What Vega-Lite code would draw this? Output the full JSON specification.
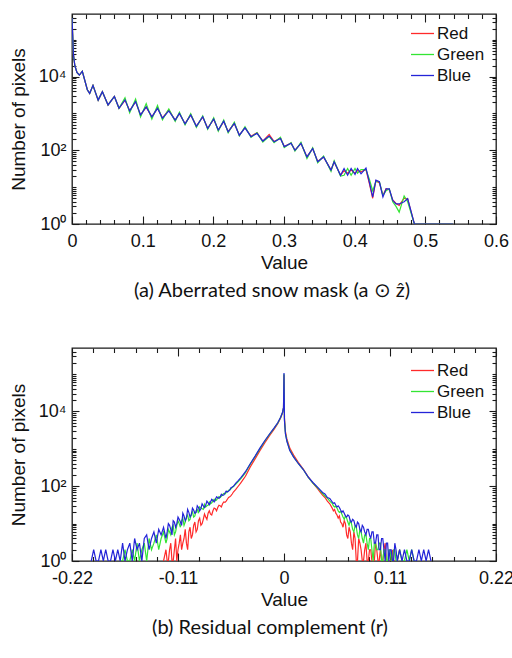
{
  "$schema": "https://vega.github.io/schema/vega-lite/v6.json",
  "padding": {"left": 8, "top": 12, "right": 0, "bottom": 0},
  "spacing": 44,
  "resolve": {"scale": {"color": "independent"}, "legend": {"color": "independent"}},
  "config": {
    "view": {"stroke": "#1a1a1a", "strokeWidth": 1.3},
    "axis": {"domain": false, "grid": false, "tickColor": "#1a1a1a", "tickWidth": 1.1, "labelFont": "Arial, Liberation Sans, sans-serif", "labelFontSize": 18, "labelColor": "#111", "titleFont": "Arial, Liberation Sans, sans-serif", "titleFontSize": 19, "titleFontWeight": "normal", "titleColor": "#111", "labelFlush": false, "labelOverlap": false, "labelBound": false},
    "legend": {"symbolType": "stroke", "symbolSize": 530, "symbolStrokeWidth": 1.3, "labelFont": "Arial, Liberation Sans, sans-serif", "labelFontSize": 17, "labelColor": "#111", "rowPadding": 0, "labelOffset": 2, "padding": 0}
  },
  "vconcat": [
    {
      "width": 424,
      "height": 210,
      "title": {"text": "(a) Aberrated snow mask (a ⊙ ẑ)", "orient": "bottom", "anchor": "middle", "font": "Lato", "fontSize": 20, "fontWeight": "normal", "color": "#111", "offset": 9, "dx": -12},
      "data": {"values": [
        {"v": 0, "R": 390000, "G": 390000, "B": 390000},
        {"v": 0.001, "R": 130000, "G": 130000, "B": 130000},
        {"v": 0.002, "R": 40000, "G": 40000, "B": 40000},
        {"v": 0.004, "R": 20000, "G": 20000, "B": 20000},
        {"v": 0.007, "R": 13000, "G": 13000, "B": 13000},
        {"v": 0.0105, "R": 11000, "G": 11000, "B": 11000},
        {"v": 0.0146, "R": 14000, "G": 14000, "B": 14000},
        {"v": 0.0217, "R": 4400, "G": 4400, "B": 4400},
        {"v": 0.025, "R": 3500, "G": 3500, "B": 3500},
        {"v": 0.0297, "R": 5800, "G": 5800, "B": 5800},
        {"v": 0.037, "R": 2300, "G": 2300, "B": 2300},
        {"v": 0.043, "R": 3900, "G": 3900, "B": 3900},
        {"v": 0.051, "R": 1700, "G": 1700, "B": 1700},
        {"v": 0.06, "R": 2900, "G": 2900, "B": 2900},
        {"v": 0.0665, "R": 1380, "G": 1380, "B": 1380},
        {"v": 0.075, "R": 2300, "G": 2650, "B": 2340},
        {"v": 0.0816, "R": 1180, "G": 1040, "B": 1175},
        {"v": 0.09, "R": 2100, "G": 2450, "B": 2090},
        {"v": 0.097, "R": 900, "G": 800, "B": 912},
        {"v": 0.105, "R": 1500, "G": 1850, "B": 1510},
        {"v": 0.113, "R": 800, "G": 700, "B": 813},
        {"v": 0.121, "R": 1400, "G": 1650, "B": 1380},
        {"v": 0.128, "R": 750, "G": 670, "B": 741},
        {"v": 0.137, "R": 1250, "G": 1320, "B": 1175},
        {"v": 0.146, "R": 650, "G": 610, "B": 660},
        {"v": 0.152, "R": 1000, "G": 1080, "B": 1000},
        {"v": 0.16, "R": 520, "G": 490, "B": 525},
        {"v": 0.168, "R": 930, "G": 980, "B": 912},
        {"v": 0.176, "R": 450, "G": 420, "B": 447},
        {"v": 0.185, "R": 800, "G": 860, "B": 813},
        {"v": 0.192, "R": 395, "G": 370, "B": 389},
        {"v": 0.2005, "R": 700, "G": 760, "B": 708},
        {"v": 0.207, "R": 350, "G": 330, "B": 355},
        {"v": 0.2147, "R": 610, "G": 660, "B": 617},
        {"v": 0.221, "R": 320, "G": 300, "B": 316},
        {"v": 0.2297, "R": 540, "G": 580, "B": 537},
        {"v": 0.2368, "R": 255, "G": 245, "B": 257},
        {"v": 0.2448, "R": 410, "G": 440, "B": 407},
        {"v": 0.2533, "R": 240, "G": 225, "B": 234},
        {"v": 0.2618, "R": 300, "G": 300, "B": 288},
        {"v": 0.27, "R": 178, "G": 168, "B": 178},
        {"v": 0.279, "R": 270, "G": 240, "B": 245},
        {"v": 0.286, "R": 172, "G": 162, "B": 170},
        {"v": 0.295, "R": 215, "G": 225, "B": 209},
        {"v": 0.3004, "R": 126, "G": 118, "B": 126},
        {"v": 0.31, "R": 158, "G": 160, "B": 155},
        {"v": 0.3155, "R": 100, "G": 95, "B": 100},
        {"v": 0.324, "R": 155, "G": 165, "B": 155},
        {"v": 0.3325, "R": 66, "G": 60, "B": 66},
        {"v": 0.3406, "R": 112, "G": 118, "B": 112},
        {"v": 0.3477, "R": 50, "G": 46, "B": 49},
        {"v": 0.356, "R": 66, "G": 70, "B": 66},
        {"v": 0.3665, "R": 29, "G": 27, "B": 29},
        {"v": 0.371, "R": 49, "G": 52, "B": 49},
        {"v": 0.38, "R": 21, "G": 20, "B": 21},
        {"v": 0.385, "R": 28, "G": 21, "B": 32},
        {"v": 0.39, "R": 24, "G": 32, "B": 21},
        {"v": 0.395, "R": 29, "G": 21, "B": 32},
        {"v": 0.4005, "R": 24, "G": 32, "B": 22},
        {"v": 0.404, "R": 28, "G": 24, "B": 32},
        {"v": 0.409, "R": 26, "G": 30, "B": 23},
        {"v": 0.416, "R": 30, "G": 30, "B": 33},
        {"v": 0.421, "R": 12, "G": 16, "B": 13},
        {"v": 0.4255, "R": 5, "G": 8, "B": 5.4},
        {"v": 0.43, "R": 15, "G": 14, "B": 15.5},
        {"v": 0.435, "R": 13, "G": 14, "B": 14},
        {"v": 0.44, "R": 6, "G": 6, "B": 5.4},
        {"v": 0.4445, "R": 9, "G": 8, "B": 9},
        {"v": 0.449, "R": 8.5, "G": 9, "B": 9},
        {"v": 0.4538, "R": 4.5, "G": 4, "B": 4.4},
        {"v": 0.4585, "R": 3.6, "G": 3, "B": 3.5},
        {"v": 0.463, "R": 3.2, "G": 2.1, "B": 3.5},
        {"v": 0.47, "R": 5, "G": 5.8, "B": 4},
        {"v": 0.475, "R": 4.8, "G": 4, "B": 4.9},
        {"v": 0.4845, "R": 1, "G": 1, "B": 1},
        {"v": 0.539, "R": 1, "G": 1, "B": 1}
      ]},
      "transform": [{"fold": ["R", "G", "B"], "as": ["ch", "n"]}],
      "layer": [
        {
          "mark": {"type": "line", "strokeWidth": 1.2, "clip": true},
          "encoding": {
            "x": {"field": "v", "type": "quantitative", "scale": {"domain": [0, 0.6], "nice": false, "zero": false}, "axis": {"orient": "bottom", "values": [0, 0.1, 0.2, 0.3, 0.4, 0.5, 0.6], "format": ".1~f", "tickSize": -8, "labelPadding": 16, "title": "Value", "titlePadding": 3}},
            "y": {"field": "n", "type": "quantitative", "scale": {"type": "log", "domain": [1, 500000], "nice": false}, "axis": {"orient": "left", "values": [1, 100, 10000], "labelExpr": "datum.value == 1 ? '10⁰' : datum.value == 100 ? '10²' : '10⁴'", "tickSize": -7, "labelPadding": 13, "title": "Number of pixels", "titlePadding": 10}},
            "color": {"field": "ch", "type": "nominal", "scale": {"domain": ["R", "G", "B"], "range": ["#ff2a2a", "#33e533", "#2424d8"]}, "legend": {"title": null, "orient": "none", "legendX": 338, "legendY": 7, "labelExpr": "datum.label == 'R' ? 'Red' : datum.label == 'G' ? 'Green' : 'Blue'"}}
          }
        },
        {
          "mark": {"type": "point", "opacity": 0, "size": 1},
          "encoding": {
            "x": {"field": "v", "type": "quantitative", "scale": {"domain": [0, 0.6], "nice": false, "zero": false}, "axis": {"orient": "bottom", "values": [0.02, 0.04, 0.06, 0.08, 0.12, 0.14, 0.16, 0.18, 0.22, 0.24, 0.26, 0.28, 0.32, 0.34, 0.36, 0.38, 0.42, 0.44, 0.46, 0.48, 0.52, 0.54, 0.56, 0.58], "tickSize": -4.5, "labels": false, "title": null}},
            "y": {"field": "n", "type": "quantitative", "scale": {"type": "log", "domain": [1, 500000], "nice": false}, "axis": {"orient": "left", "values": [2, 3, 4, 5, 6, 7, 8, 9, 10, 20, 30, 40, 50, 60, 70, 80, 90, 200, 300, 400, 500, 600, 700, 800, 900, 1000, 2000, 3000, 4000, 5000, 6000, 7000, 8000, 9000, 20000, 30000, 40000, 50000, 60000, 70000, 80000, 90000, 100000, 200000, 300000, 400000], "tickSize": -4, "labels": false, "title": null}}
          }
        },
        {
          "mark": {"type": "point", "opacity": 0, "size": 1},
          "encoding": {
            "x": {"field": "v", "type": "quantitative", "scale": {"domain": [0, 0.6], "nice": false, "zero": false}, "axis": {"orient": "top", "values": [0, 0.1, 0.2, 0.3, 0.4, 0.5, 0.6], "tickSize": -8, "labels": false, "title": null}},
            "y": {"field": "n", "type": "quantitative", "scale": {"type": "log", "domain": [1, 500000], "nice": false}, "axis": {"orient": "right", "values": [1, 100, 10000], "tickSize": -7, "labels": false, "title": null}}
          }
        },
        {
          "mark": {"type": "point", "opacity": 0, "size": 1},
          "encoding": {
            "x": {"field": "v", "type": "quantitative", "scale": {"domain": [0, 0.6], "nice": false, "zero": false}, "axis": {"orient": "top", "values": [0.02, 0.04, 0.06, 0.08, 0.12, 0.14, 0.16, 0.18, 0.22, 0.24, 0.26, 0.28, 0.32, 0.34, 0.36, 0.38, 0.42, 0.44, 0.46, 0.48, 0.52, 0.54, 0.56, 0.58], "tickSize": -4.5, "labels": false, "title": null}},
            "y": {"field": "n", "type": "quantitative", "scale": {"type": "log", "domain": [1, 500000], "nice": false}, "axis": {"orient": "right", "values": [2, 3, 4, 5, 6, 7, 8, 9, 10, 20, 30, 40, 50, 60, 70, 80, 90, 200, 300, 400, 500, 600, 700, 800, 900, 1000, 2000, 3000, 4000, 5000, 6000, 7000, 8000, 9000, 20000, 30000, 40000, 50000, 60000, 70000, 80000, 90000, 100000, 200000, 300000, 400000], "tickSize": -4, "labels": false, "title": null}}
          }
        }
      ],
      "resolve": {"axis": {"x": "independent", "y": "independent"}}
    },
    {
      "width": 424,
      "height": 213,
      "title": {"text": "(b) Residual complement (r)", "orient": "bottom", "anchor": "middle", "font": "Lato", "fontSize": 20, "fontWeight": "normal", "color": "#111", "offset": 9, "dx": -14},
      "data": {"values": [
        {"v": -0.2, "B": 1},
        {"v": -0.1975, "B": 2},
        {"v": -0.195, "B": 1},
        {"v": -0.1925, "B": 1},
        {"v": -0.19, "B": 2},
        {"v": -0.1875, "B": 1},
        {"v": -0.185, "B": 2},
        {"v": -0.1825, "B": 1},
        {"v": -0.18, "B": 1},
        {"v": -0.1775, "B": 2},
        {"v": -0.175, "B": 1},
        {"v": -0.1725, "B": 2},
        {"v": -0.17, "B": 1, "G": 1},
        {"v": -0.1675, "B": 3, "G": 1},
        {"v": -0.165, "B": 1, "G": 2},
        {"v": -0.1625, "B": 2, "G": 1},
        {"v": -0.16, "B": 3, "G": 1},
        {"v": -0.1575, "B": 1, "G": 2},
        {"v": -0.155, "B": 4, "G": 1},
        {"v": -0.1525, "B": 2, "G": 3},
        {"v": -0.15, "B": 3, "G": 1},
        {"v": -0.1475, "B": 1, "G": 2},
        {"v": -0.145, "B": 4, "G": 3},
        {"v": -0.1425, "B": 5, "G": 1},
        {"v": -0.14, "B": 2, "G": 4},
        {"v": -0.1375, "B": 4, "G": 2},
        {"v": -0.135, "B": 6, "G": 3},
        {"v": -0.1325, "B": 3, "G": 5},
        {"v": -0.13, "B": 7, "G": 2},
        {"v": -0.1275, "B": 5, "G": 4},
        {"v": -0.125, "B": 8, "G": 6, "R": 1},
        {"v": -0.1225, "B": 4, "G": 3, "R": 2},
        {"v": -0.12125, "B": 6, "G": 4, "R": 1},
        {"v": -0.12, "B": 10, "G": 7, "R": 1},
        {"v": -0.11875, "B": 9, "G": 6, "R": 2},
        {"v": -0.1175, "B": 7, "G": 5, "R": 3},
        {"v": -0.11625, "B": 5, "G": 8, "R": 1},
        {"v": -0.115, "B": 12, "G": 9, "R": 1},
        {"v": -0.11375, "B": 11, "G": 5, "R": 2},
        {"v": -0.1125, "B": 8, "G": 6, "R": 4},
        {"v": -0.11125, "B": 10, "G": 9, "R": 1},
        {"v": -0.11, "B": 15, "G": 12, "R": 2},
        {"v": -0.10875, "B": 13, "G": 10, "R": 3},
        {"v": -0.1075, "B": 11, "G": 8, "R": 5},
        {"v": -0.10625, "B": 9, "G": 12, "R": 2},
        {"v": -0.105, "B": 19, "G": 14, "R": 3},
        {"v": -0.10375, "B": 16, "G": 9, "R": 4},
        {"v": -0.1025, "B": 12, "G": 11, "R": 7},
        {"v": -0.10125, "B": 14, "G": 15, "R": 3},
        {"v": -0.1, "B": 24, "G": 17, "R": 2},
        {"v": -0.09875, "B": 20, "G": 12, "R": 6},
        {"v": -0.0975, "B": 15, "G": 13, "R": 8},
        {"v": -0.09625, "B": 17, "G": 18, "R": 4},
        {"v": -0.095, "B": 26, "G": 21, "R": 5},
        {"v": -0.09375, "B": 23, "G": 15, "R": 9},
        {"v": -0.0925, "B": 19, "G": 16, "R": 11},
        {"v": -0.09125, "B": 20, "G": 22, "R": 6},
        {"v": -0.09, "B": 30, "G": 24, "R": 7},
        {"v": -0.08875, "B": 27, "G": 19, "R": 12},
        {"v": -0.0875, "B": 22, "G": 28, "R": 14},
        {"v": -0.08625, "B": 25, "G": 26, "R": 9},
        {"v": -0.085, "B": 34, "G": 25, "R": 10},
        {"v": -0.08375, "B": 30, "G": 24, "R": 13},
        {"v": -0.0825, "B": 27, "G": 33, "R": 18},
        {"v": -0.08125, "B": 31, "G": 28, "R": 15},
        {"v": -0.08, "B": 40, "G": 30, "R": 13},
        {"v": -0.07875, "B": 36, "G": 31, "R": 19},
        {"v": -0.0775, "B": 32, "G": 38, "R": 22},
        {"v": -0.07625, "B": 38, "G": 34, "R": 18},
        {"v": -0.075, "B": 45, "G": 36, "R": 17},
        {"v": -0.07375, "B": 42, "G": 40, "R": 22},
        {"v": -0.0725, "B": 38, "G": 45, "R": 26},
        {"v": -0.07125, "B": 44, "G": 41, "R": 25},
        {"v": -0.07, "B": 52, "G": 43, "R": 22},
        {"v": -0.06875, "B": 50, "G": 48, "R": 27},
        {"v": -0.0675, "B": 47, "G": 53, "R": 31},
        {"v": -0.06625, "B": 52, "G": 50, "R": 30},
        {"v": -0.065, "B": 61, "G": 54, "R": 28},
        {"v": -0.06375, "B": 57, "G": 60, "R": 34},
        {"v": -0.0625, "B": 58, "G": 64, "R": 38},
        {"v": -0.06125, "B": 66, "G": 62, "R": 37},
        {"v": -0.06, "B": 74, "G": 68, "R": 40},
        {"v": -0.05875, "B": 70, "G": 72, "R": 45},
        {"v": -0.0575, "B": 74, "G": 78, "R": 50},
        {"v": -0.05625, "B": 80, "G": 80, "R": 52},
        {"v": -0.055, "B": 92, "G": 86, "R": 56},
        {"v": -0.05375, "B": 95, "G": 92, "R": 62},
        {"v": -0.0525, "B": 100, "G": 98, "R": 70},
        {"v": -0.05, "B": 122, "G": 114, "R": 82},
        {"v": -0.0475, "B": 142, "G": 134, "R": 100},
        {"v": -0.045, "B": 168, "G": 158, "R": 122},
        {"v": -0.0425, "B": 202, "G": 190, "R": 150},
        {"v": -0.04, "B": 245, "G": 232, "R": 185},
        {"v": -0.035, "B": 400, "G": 390, "R": 330},
        {"v": -0.03, "B": 640, "G": 620, "R": 540},
        {"v": -0.025, "B": 1050, "G": 1000, "R": 900},
        {"v": -0.02, "B": 1650, "G": 1600, "R": 1450},
        {"v": -0.015, "B": 2500, "G": 2450, "R": 2250},
        {"v": -0.01, "B": 3700, "G": 3650, "R": 3400},
        {"v": -0.0065, "B": 5000, "G": 4900, "R": 4700},
        {"v": -0.0035, "B": 7000, "G": 6900, "R": 6700},
        {"v": -0.0015, "B": 9500, "G": 9400, "R": 9200},
        {"v": -0.0005, "B": 13000, "G": 12500, "R": 12500},
        {"v": 0, "B": 107000, "G": 100000, "R": 95000},
        {"v": 0.0005, "B": 5600, "G": 5900, "R": 6500},
        {"v": 0.0015, "B": 2500, "G": 2600, "R": 2900},
        {"v": 0.003, "B": 1600, "G": 1650, "R": 1850},
        {"v": 0.006, "B": 900, "G": 930, "R": 1050},
        {"v": 0.01, "B": 600, "G": 610, "R": 680},
        {"v": 0.015, "B": 400, "G": 400, "R": 430},
        {"v": 0.02, "B": 280, "G": 280, "R": 290},
        {"v": 0.025, "B": 178, "G": 176, "R": 180},
        {"v": 0.03, "B": 126, "G": 122, "R": 122},
        {"v": 0.035, "B": 93, "G": 90, "R": 85},
        {"v": 0.0375, "B": 80, "G": 76, "R": 70},
        {"v": 0.04, "B": 68, "G": 64, "R": 58},
        {"v": 0.0425, "B": 62, "G": 55, "R": 50},
        {"v": 0.045, "B": 50, "G": 48, "R": 40},
        {"v": 0.0475, "B": 47, "G": 40, "R": 34},
        {"v": 0.05, "B": 38, "G": 35, "R": 26},
        {"v": 0.05125, "B": 35, "G": 30, "R": 22},
        {"v": 0.0525, "B": 36, "G": 28, "R": 24},
        {"v": 0.05375, "B": 31, "G": 29, "R": 19},
        {"v": 0.055, "B": 28, "G": 26, "R": 17},
        {"v": 0.05625, "B": 30, "G": 22, "R": 14},
        {"v": 0.0575, "B": 27, "G": 20, "R": 16},
        {"v": 0.05875, "B": 23, "G": 21, "R": 11},
        {"v": 0.06, "B": 20, "G": 18, "R": 10},
        {"v": 0.06125, "B": 22, "G": 15, "R": 8},
        {"v": 0.0625, "B": 19, "G": 13, "R": 12},
        {"v": 0.06375, "B": 16, "G": 16, "R": 10},
        {"v": 0.065, "B": 15, "G": 14, "R": 5},
        {"v": 0.06625, "B": 17, "G": 11, "R": 4},
        {"v": 0.0675, "B": 16, "G": 9, "R": 8},
        {"v": 0.06875, "B": 12, "G": 12, "R": 6},
        {"v": 0.07, "B": 11, "G": 10, "R": 3},
        {"v": 0.07125, "B": 13, "G": 7, "R": 2},
        {"v": 0.0725, "B": 12, "G": 6, "R": 6},
        {"v": 0.07375, "B": 9, "G": 9, "R": 4},
        {"v": 0.075, "B": 8, "G": 8, "R": 1},
        {"v": 0.07625, "B": 11, "G": 5, "R": 1},
        {"v": 0.0775, "B": 10, "G": 4, "R": 4},
        {"v": 0.07875, "B": 7, "G": 7, "R": 3},
        {"v": 0.08, "B": 6, "G": 6, "R": 2},
        {"v": 0.08125, "B": 9, "G": 4, "R": 1},
        {"v": 0.0825, "B": 8, "G": 3, "R": 1},
        {"v": 0.08375, "B": 6, "G": 5, "R": 2},
        {"v": 0.085, "B": 5, "G": 5, "R": 3},
        {"v": 0.08625, "B": 7, "G": 3, "R": 1},
        {"v": 0.0875, "B": 7, "G": 2, "R": 1},
        {"v": 0.08875, "B": 5, "G": 4, "R": 2},
        {"v": 0.09, "B": 4, "G": 4, "R": 2},
        {"v": 0.09125, "B": 6, "G": 2, "R": 1},
        {"v": 0.0925, "B": 6, "G": 1, "R": 1},
        {"v": 0.09375, "B": 3, "G": 3, "R": 1},
        {"v": 0.095, "B": 3, "G": 3, "R": 3},
        {"v": 0.09625, "B": 5, "G": 2, "R": 2},
        {"v": 0.0975, "B": 5, "G": 2, "R": 1},
        {"v": 0.09875, "B": 2, "G": 3, "R": 1},
        {"v": 0.1, "B": 2, "G": 3, "R": 2},
        {"v": 0.10125, "B": 4, "G": 1, "R": 1},
        {"v": 0.1025, "B": 4, "G": 1, "R": 1},
        {"v": 0.10375, "B": 2, "G": 2, "R": 2},
        {"v": 0.105, "B": 1, "G": 2, "R": 3},
        {"v": 0.10625, "B": 3, "G": 1, "R": 1},
        {"v": 0.1075, "B": 3, "G": 1, "R": 1},
        {"v": 0.10875, "B": 1, "G": 2, "R": 1},
        {"v": 0.11, "B": 2, "G": 2, "R": 1},
        {"v": 0.11125, "B": 2, "G": 1, "R": 1},
        {"v": 0.1125, "B": 1, "G": 1, "R": 2},
        {"v": 0.11375, "B": 1, "G": 2, "R": 1},
        {"v": 0.115, "B": 3, "G": 2, "R": 1},
        {"v": 0.11625, "B": 2, "G": 1, "R": 1},
        {"v": 0.1175, "B": 1, "G": 1, "R": 1},
        {"v": 0.12, "B": 2, "G": 2, "R": 2},
        {"v": 0.1225, "B": 1, "G": 1},
        {"v": 0.125, "B": 2, "G": 1},
        {"v": 0.1275, "B": 1, "G": 2},
        {"v": 0.13, "B": 1, "G": 1},
        {"v": 0.1325, "B": 2, "G": 2},
        {"v": 0.135, "B": 1, "G": 1},
        {"v": 0.1375, "B": 1},
        {"v": 0.14, "B": 2},
        {"v": 0.1425, "B": 1},
        {"v": 0.145, "B": 2},
        {"v": 0.1475, "B": 1},
        {"v": 0.15, "B": 2},
        {"v": 0.1525, "B": 1}
      ]},
      "transform": [{"fold": ["R", "G", "B"], "as": ["ch", "n"]}],
      "layer": [
        {
          "mark": {"type": "line", "strokeWidth": 1.2, "clip": true},
          "encoding": {
            "x": {"field": "v", "type": "quantitative", "scale": {"domain": [-0.22, 0.22], "nice": false, "zero": false}, "axis": {"orient": "bottom", "values": [-0.22, -0.11, 0, 0.11, 0.22], "labelExpr": "datum.value < 0 ? '-' + format(-datum.value, '.2~f') : format(datum.value, '.2~f')", "tickSize": -8, "labelPadding": 16, "title": "Value", "titlePadding": 3}},
            "y": {"field": "n", "type": "quantitative", "scale": {"type": "log", "domain": [1, 500000], "nice": false}, "axis": {"orient": "left", "values": [1, 100, 10000], "labelExpr": "datum.value == 1 ? '10⁰' : datum.value == 100 ? '10²' : '10⁴'", "tickSize": -7, "labelPadding": 13, "title": "Number of pixels", "titlePadding": 10}},
            "color": {"field": "ch", "type": "nominal", "scale": {"domain": ["R", "G", "B"], "range": ["#ff2a2a", "#33e533", "#2424d8"]}, "legend": {"title": null, "orient": "none", "legendX": 338, "legendY": 10, "labelExpr": "datum.label == 'R' ? 'Red' : datum.label == 'G' ? 'Green' : 'Blue'"}}
          }
        },
        {
          "mark": {"type": "point", "opacity": 0, "size": 1},
          "encoding": {
            "x": {"field": "v", "type": "quantitative", "scale": {"domain": [-0.22, 0.22], "nice": false, "zero": false}, "axis": {"orient": "bottom", "values": [-0.198, -0.176, -0.154, -0.132, -0.088, -0.066, -0.044, -0.022, 0.022, 0.044, 0.066, 0.088, 0.132, 0.154, 0.176, 0.198], "tickSize": -4.5, "labels": false, "title": null}},
            "y": {"field": "n", "type": "quantitative", "scale": {"type": "log", "domain": [1, 500000], "nice": false}, "axis": {"orient": "left", "values": [2, 3, 4, 5, 6, 7, 8, 9, 10, 20, 30, 40, 50, 60, 70, 80, 90, 200, 300, 400, 500, 600, 700, 800, 900, 1000, 2000, 3000, 4000, 5000, 6000, 7000, 8000, 9000, 20000, 30000, 40000, 50000, 60000, 70000, 80000, 90000, 100000, 200000, 300000, 400000], "tickSize": -4, "labels": false, "title": null}}
          }
        },
        {
          "mark": {"type": "point", "opacity": 0, "size": 1},
          "encoding": {
            "x": {"field": "v", "type": "quantitative", "scale": {"domain": [-0.22, 0.22], "nice": false, "zero": false}, "axis": {"orient": "top", "values": [-0.22, -0.11, 0, 0.11, 0.22], "tickSize": -8, "labels": false, "title": null}},
            "y": {"field": "n", "type": "quantitative", "scale": {"type": "log", "domain": [1, 500000], "nice": false}, "axis": {"orient": "right", "values": [1, 100, 10000], "tickSize": -7, "labels": false, "title": null}}
          }
        },
        {
          "mark": {"type": "point", "opacity": 0, "size": 1},
          "encoding": {
            "x": {"field": "v", "type": "quantitative", "scale": {"domain": [-0.22, 0.22], "nice": false, "zero": false}, "axis": {"orient": "top", "values": [-0.198, -0.176, -0.154, -0.132, -0.088, -0.066, -0.044, -0.022, 0.022, 0.044, 0.066, 0.088, 0.132, 0.154, 0.176, 0.198], "tickSize": -4.5, "labels": false, "title": null}},
            "y": {"field": "n", "type": "quantitative", "scale": {"type": "log", "domain": [1, 500000], "nice": false}, "axis": {"orient": "right", "values": [2, 3, 4, 5, 6, 7, 8, 9, 10, 20, 30, 40, 50, 60, 70, 80, 90, 200, 300, 400, 500, 600, 700, 800, 900, 1000, 2000, 3000, 4000, 5000, 6000, 7000, 8000, 9000, 20000, 30000, 40000, 50000, 60000, 70000, 80000, 90000, 100000, 200000, 300000, 400000], "tickSize": -4, "labels": false, "title": null}}
          }
        }
      ],
      "resolve": {"axis": {"x": "independent", "y": "independent"}}
    }
  ]
}
